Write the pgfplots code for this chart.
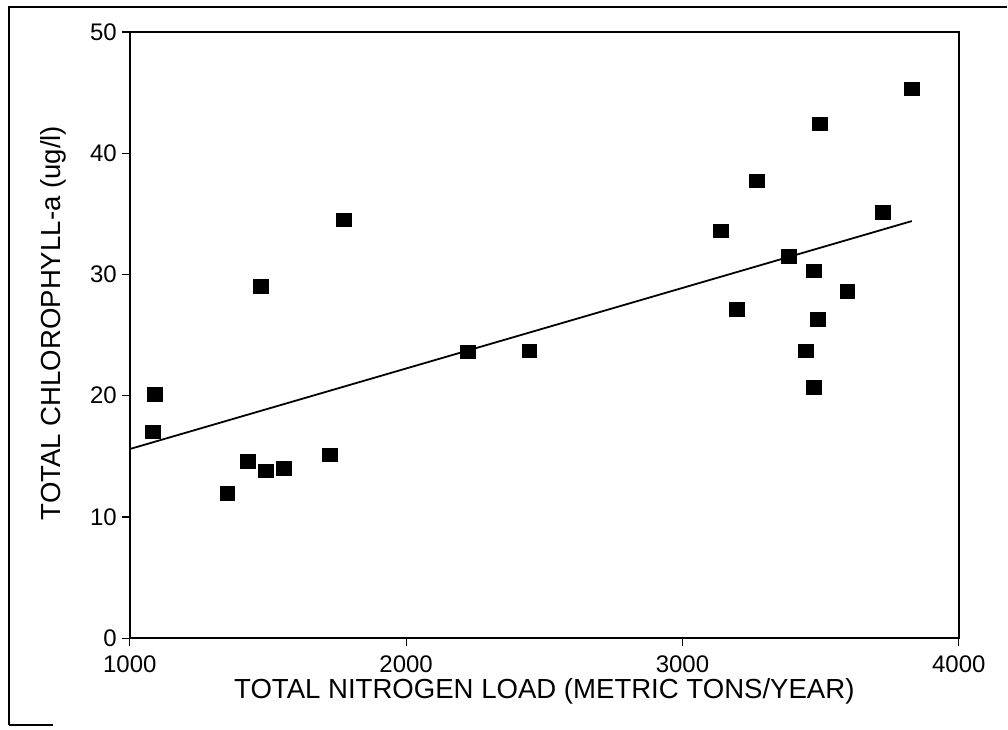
\documentclass[border=0pt]{standalone}
\usepackage{fontspec}
\setmainfont{Liberation Sans}
\usepackage{pgfplots}
\pgfplotsset{compat=1.18}

\begin{document}
\begin{tikzpicture}
\begin{axis}[
    name=ax,
    scale only axis,
    width=415pt, height=303.5pt,
    xmin=1000, xmax=4000,
    ymin=0, ymax=50,
    xtick={1000,2000,3000,4000},
    ytick={0,10,20,30,40,50},
    tick pos=left,
    tick align=outside,
    major tick length=4pt,
    tick style={black, line width=0.6pt},
    axis line style={line width=0.8pt},
    /pgf/number format/assume math mode=true,
    /pgf/number format/set thousands separator={},
    ticklabel style={font=\fontsize{12}{14}\selectfont},
    label style={font=\fontsize{13.8}{15.5}\selectfont},
    xticklabel style={yshift=-1.5pt},
    yticklabel style={xshift=1pt},
    xlabel={TOTAL NITROGEN LOAD (METRIC TONS/YEAR)},
    ylabel={TOTAL CHLOROPHYLL-a (ug/l)},
    xlabel style={yshift=4pt},
    ylabel style={yshift=5pt, xshift=6pt},
]
% observations
\addplot[only marks, mark=square*, mark size=3.4pt,
         mark options={fill=black, draw=black, xscale=1.1}] coordinates {
    (1084,17.0) (1090,20.1) (1353,11.95) (1428,14.6) (1473,29.0)
    (1494,13.8) (1558,14.0) (1723,15.1) (1775,34.5) (2223,23.6)
    (2446,23.7) (3138,33.6) (3198,27.1) (3268,37.7) (3385,31.5)
    (3447,23.7) (3477,30.3) (3477,20.7) (3490,26.3) (3496,42.4)
    (3597,28.6) (3726,35.1) (3829,45.3)
};
% regression line
\addplot[black, line width=0.9pt] coordinates {(1000,15.6) (3830,34.4)};
\end{axis}
% outer frame (top and left edges, short stub at the bottom)
\draw[line width=1.3pt] ([xshift=-60.5pt,yshift=-43.5pt]ax.south west)
    |- ([xshift=24pt,yshift=12.5pt]ax.north east);
\draw[line width=0.8pt] ([xshift=-60.5pt,yshift=-43.5pt]ax.south west)
    -- ++(22pt,0);
\useasboundingbox ([xshift=-65pt,yshift=-45.5pt]ax.south west)
    rectangle ([xshift=24pt,yshift=16pt]ax.north east);
\end{tikzpicture}
\end{document}
